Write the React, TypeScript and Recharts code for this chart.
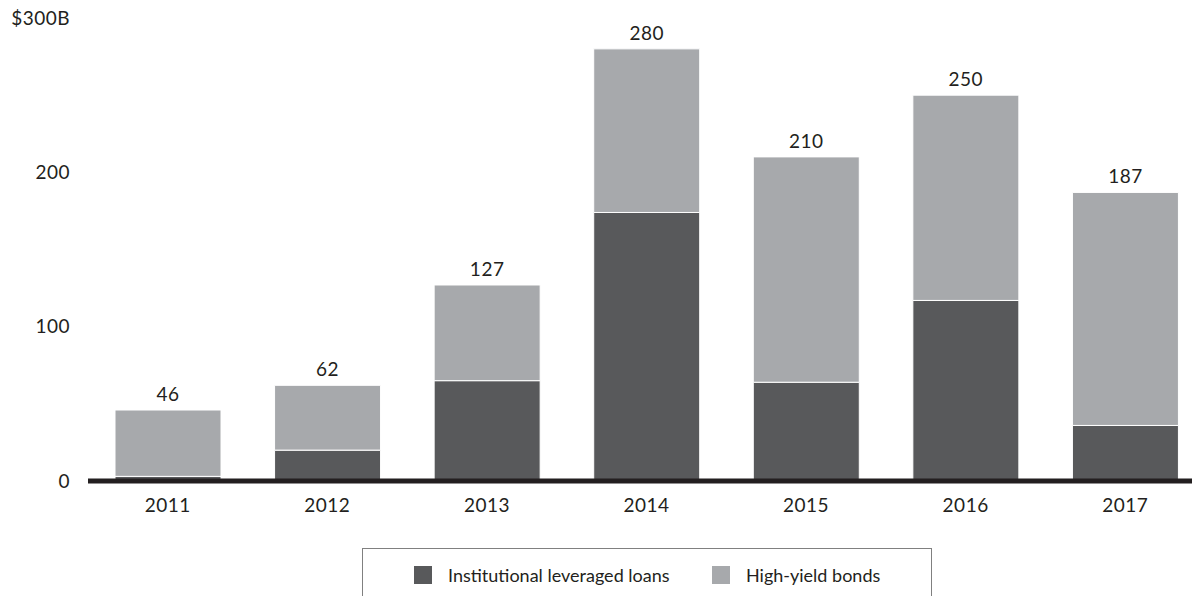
import React from 'react';
import { BarChart, Bar, XAxis, YAxis, LabelList } from 'recharts';

const years = ['2011', '2012', '2013', '2014', '2015', '2016', '2017'];
const totals = [46, 62, 127, 280, 210, 250, 187];
const leveragedLoans = [3, 20, 65, 174, 64, 117, 36];
const highYieldBonds = [43, 42, 62, 106, 146, 133, 151];
const yTicks = [0, 100, 200, 300];
const seriesNames = ['Institutional leveraged loans', 'High-yield bonds'];
const seriesColors = ['#58595b', '#a7a9ac'];

const data = years.map((year, i) => ({
  year,
  loans: leveragedLoans[i],
  bonds: highYieldBonds[i],
  total: totals[i],
}));

const FONT = 'Lato, "Noto Sans", sans-serif';
const TEXT = '#231f20';

export default function App() {
  return (
    <div
      style={{
        position: 'fixed',
        left: 0,
        top: 0,
        width: 1192,
        height: 596,
        overflow: 'hidden',
        background: '#fff',
        fontFamily: FONT,
      }}
    >
      <BarChart
        width={1205}
        height={596}
        data={data}
        margin={{ top: 18, right: 0, left: 0, bottom: 85 }}
        barSize={106}
      >
        <YAxis
          width={88}
          domain={[0, 300]}
          ticks={yTicks}
          interval={0}
          axisLine={false}
          tickLine={false}
          tickSize={0}
          tickMargin={18}
          tickFormatter={(v: number) => (v === 300 ? '$300B' : String(v))}
          tick={{ fill: TEXT, fontSize: 19, fontFamily: FONT, letterSpacing: 0.5 }}
        />
        <XAxis
          dataKey="year"
          height={30}
          axisLine={{ stroke: TEXT, strokeWidth: 5 }}
          tickLine={false}
          tickSize={0}
          tickMargin={18}
          interval={0}
          tick={{ fill: TEXT, fontSize: 19, fontFamily: FONT, letterSpacing: 0.5 }}
        />
        <Bar
          dataKey="loans"
          stackId="a"
          fill={seriesColors[0]}
          stroke="#fff"
          strokeWidth={1}
          isAnimationActive={false}
        />
        <Bar
          dataKey="bonds"
          stackId="a"
          fill={seriesColors[1]}
          stroke="#fff"
          strokeWidth={1}
          isAnimationActive={false}
        >
          <LabelList
            dataKey="total"
            position="top"
            offset={9}
            fill={TEXT}
            fontSize={19}
            fontFamily={FONT}
            letterSpacing={0.5}
          />
        </Bar>
      </BarChart>
      <div
        style={{
          position: 'absolute',
          left: 362,
          top: 548,
          width: 570,
          height: 70,
          border: '1px solid #808080',
          boxSizing: 'border-box',
        }}
      >
        {seriesNames.map((name, i) => (
          <div
            key={name}
            style={{
              position: 'absolute',
              left: i === 0 ? 51 : 349,
              top: 16,
              display: 'flex',
              alignItems: 'center',
              whiteSpace: 'nowrap',
            }}
          >
            <span
              style={{
                display: 'inline-block',
                width: 18,
                height: 18,
                background: seriesColors[i],
                marginRight: 16,
              }}
            />
            <span style={{ fontSize: 18, color: TEXT, lineHeight: '20px' }}>{name}</span>
          </div>
        ))}
      </div>
    </div>
  );
}
